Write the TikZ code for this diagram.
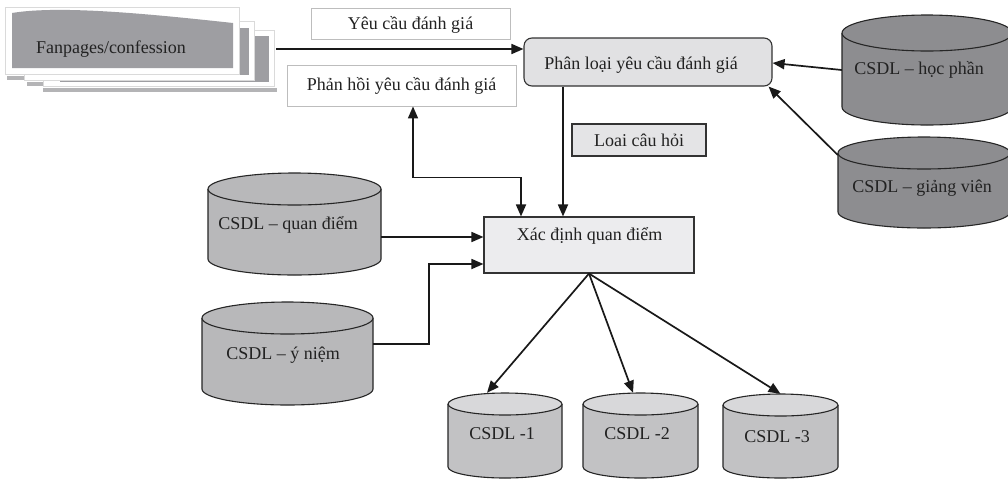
\documentclass[tikz,border=0pt]{standalone}
\usepackage{fontspec}
\setmainfont{Liberation Serif}
\usetikzlibrary{arrows.meta,calc}
\definecolor{txt}{HTML}{222222}
\definecolor{stackgray}{HTML}{9E9EA2}
\definecolor{pageedge}{HTML}{DADADA}
\definecolor{shadowgray}{HTML}{B4B4B6}
\definecolor{darkcyl}{HTML}{8D8D90}
\definecolor{midcyl}{HTML}{B8B8BA}
\definecolor{lowbody}{HTML}{C2C2C4}
\definecolor{lowtop}{HTML}{D8D8DA}
\definecolor{plfill}{HTML}{E1E1E3}
\definecolor{xdfill}{HTML}{ECECEE}
\definecolor{lcfill}{HTML}{E4E4E6}
\definecolor{lightborder}{HTML}{BDBDBD}
\newcommand{\dbcyl}[9]{%
  \fill[#7] (#2-#5,#3+#6) -- (#2-#5,#4-#6)
     arc[start angle=180,end angle=0,x radius=#5,y radius=#6]
     -- (#2+#5,#3+#6)
     arc[start angle=0,end angle=180,x radius=#5,y radius=#6] -- cycle;
  \draw[cylline] (#2-#5,#3+#6) -- (#2-#5,#4-#6)
     arc[start angle=180,end angle=0,x radius=#5,y radius=#6]
     -- (#2+#5,#3+#6);
  \filldraw[cylline,fill=#8] (#2,#3+#6) ellipse[x radius=#5,y radius=#6];
  \node[inner sep=0pt,minimum width={2*#5},minimum height={#4-#3}] (#1) at (#2,{(#3+#4)/2}) {};
  \node[lbl] (#1-t) at #9;
}
\begin{document}
\begin{tikzpicture}[x=1pt,y=-1pt,
  lbl/.style={font=\fontsize{18}{21}\selectfont,text=txt,inner sep=0pt},
  cylline/.style={draw=black!85,line width=1.1pt},
  arr/.style={line width=1.7pt,draw=black!90,-{Triangle[length=12pt,width=10pt]}},
  arrtwo/.style={line width=1.7pt,draw=black!90,{Triangle[length=12pt,width=10pt]}-{Triangle[length=12pt,width=10pt]}},
  plainbox/.style={draw=lightborder,fill=white,line width=0.9pt,inner sep=0pt,font=\fontsize{18}{21}\selectfont,text=txt},
  graybox/.style={draw=black!80,line width=1.1pt,inner sep=0pt,font=\fontsize{18}{21}\selectfont,text=txt}]
\useasboundingbox (0,0) rectangle (1008,480);
\fill[white] (0,0) rectangle (1008,480);

% ---- stacked documents ----
\fill[shadowgray] (7,76) rectangle (60,80);
\fill[shadowgray] (27,82) rectangle (80,86);
\fill[shadowgray] (43,88) rectangle (277,92);
\filldraw[fill=white,draw=pageedge,line width=0.6pt] (43,30) rectangle (274,86);
\fill[stackgray] (60,36) rectangle (269,82);
\filldraw[fill=white,draw=pageedge,line width=0.6pt] (24,21) rectangle (254,80);
\fill[stackgray] (40,28) rectangle (249,75);
\filldraw[fill=white,draw=pageedge,line width=0.6pt] (5,7) rectangle (239,74);
\fill[stackgray] (12,13) .. controls (60,5) and (150,14) .. (233,23) -- (233,68) -- (12,68) -- cycle;
\node[inner sep=0pt,minimum width=272,minimum height=86] (fan) at (140,49) {};
\node[lbl] (fan-t) at (111,49) {Fanpages/confession};

% ---- boxes ----
\node[plainbox,minimum width=199,minimum height=31] (yc) at (410.5,23.5) {};
\node[lbl] (yc-t) at (410.5,25) {Yêu cầu đánh giá};
\node[plainbox,minimum width=229,minimum height=41] (ph) at (401.5,85.5) {Phản hồi yêu cầu đánh giá};
\node[graybox,fill=plfill,rounded corners=8pt,minimum width=248,minimum height=48] (pl) at (648,62) {};
\node[lbl] (pl-t) at (641,65) {Phân loại yêu cầu đánh giá};
\node[graybox,fill=lcfill,minimum width=134,minimum height=32] (lc) at (639,140) {Loai câu hỏi};
\node[graybox,fill=xdfill,minimum width=210,minimum height=56] (xd) at (589,245) {};
\node[lbl] (xd-t) at (589.5,236) {Xác định quan điểm};

% ---- cylinders ----
\dbcyl{hp}{927}{15}{125}{85}{18}{darkcyl}{darkcyl}{(919,70) {CSDL – học phần}}
\dbcyl{gv}{924}{137}{228}{86}{16}{darkcyl}{darkcyl}{(922,188) {CSDL – giảng viên}}
\dbcyl{qd}{294.5}{173}{275}{86.5}{16}{midcyl}{midcyl}{(288,225) {CSDL – quan điểm}}
\dbcyl{yn}{287.5}{302}{405}{85.5}{16}{midcyl}{midcyl}{(283,355) {CSDL – ý niệm}}
\dbcyl{ca}{505}{393}{478}{57}{11}{lowbody}{lowtop}{(502,434) {CSDL -1}}
\dbcyl{cb}{640.5}{393}{478}{57.5}{11}{lowbody}{lowtop}{(637,434) {CSDL -2}}
\dbcyl{cc}{780.5}{394}{478}{57.5}{11}{lowbody}{lowtop}{(777,437) {CSDL -3}}

% ---- connectors ----
\draw[arr] (fan.east) -- (fan.east -| pl.west);
\draw[arr] ([xshift=-85pt]pl.south) coordinate (pldown) -- (pldown |- xd.north);
\draw[arrtwo] ([xshift=11.5pt]ph.south) -- ++(0,71) -| ([xshift=-68pt]xd.north);
\draw[arr] ([yshift=-13pt]qd.east) coordinate (qdout) -- (qdout -| xd.west);
\draw[arr] ([yshift=9.5pt]yn.east) -- ++(56,0) |- ([yshift=-19pt]xd.west);
\draw[arr] (hp.west) -- ([yshift=-1pt]pl.east);
\draw[arr] ([yshift=27.5pt]gv.west) -- ([xshift=-4pt]pl.south east);
\draw[arr] (xd.south) -- ([xshift=-18pt]ca.north);
\draw[arr] (xd.south) -- ([xshift=-7.5pt]cb.north);
\draw[arr] (xd.south) -- (cc.north);
\end{tikzpicture}
\end{document}
